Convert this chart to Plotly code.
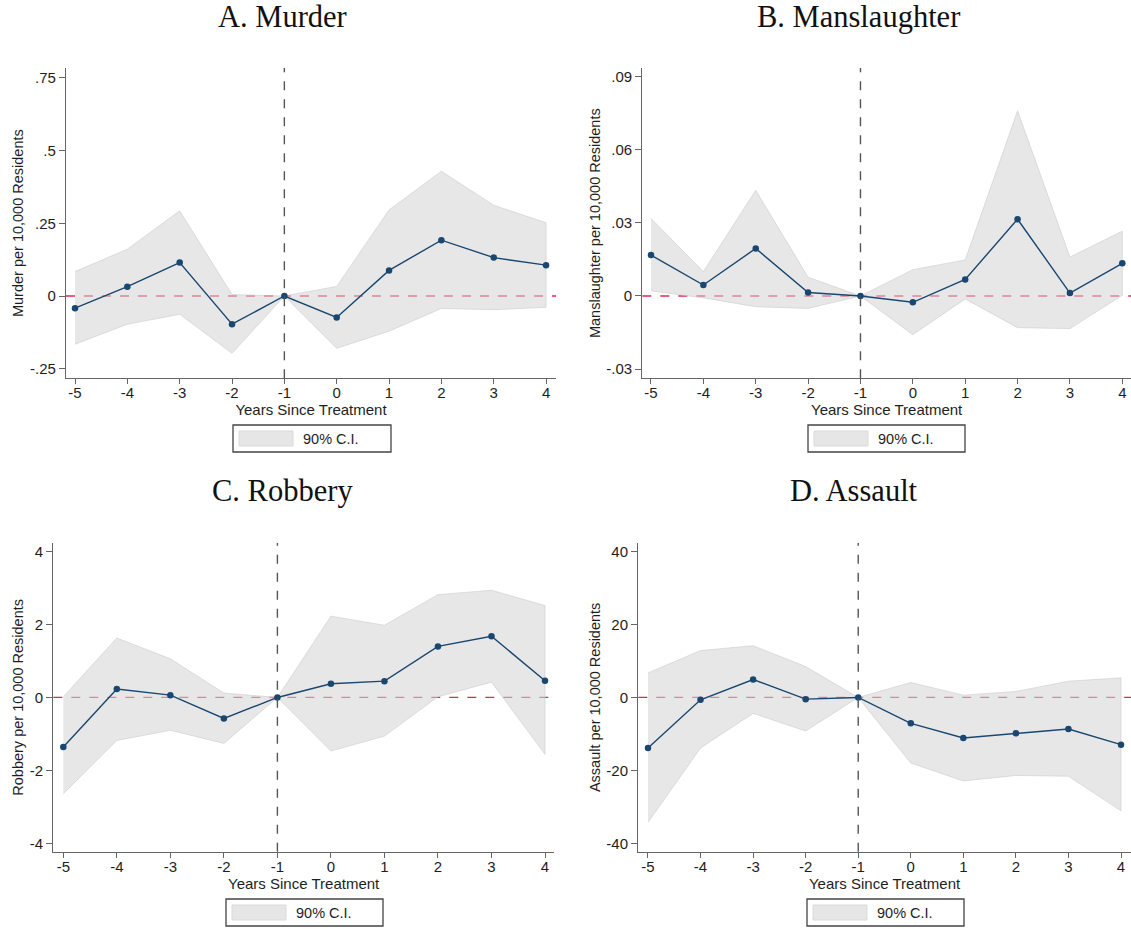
import plotly.graph_objects as go

# ---------------- data ----------------
years = [-5, -4, -3, -2, -1, 0, 1, 2, 3, 4]
x_ticks = [-5, -4, -3, -2, -1, 0, 1, 2, 3, 4]
x_ticktext = ["-5", "-4", "-3", "-2", "-1", "0", "1", "2", "3", "4"]

murder_est = [-0.042, 0.032, 0.115, -0.097, 0.0, -0.074, 0.088, 0.192, 0.132, 0.106]
murder_lo = [-0.166, -0.097, -0.063, -0.197, 0.0, -0.180, -0.121, -0.043, -0.047, -0.039]
murder_hi = [0.084, 0.161, 0.293, 0.005, 0.0, 0.033, 0.296, 0.429, 0.312, 0.252]

mansl_est = [0.0168, 0.0045, 0.0195, 0.0014, 0.0, -0.0026, 0.0068, 0.0315, 0.0012, 0.0134]
mansl_lo = [0.0021, -0.0008, -0.0044, -0.0051, 0.0, -0.0159, -0.0012, -0.0130, -0.0134, 0.0003]
mansl_hi = [0.0318, 0.0100, 0.0434, 0.0077, 0.0, 0.0108, 0.0148, 0.0760, 0.0160, 0.0266]

robbery_est = [-1.36, 0.23, 0.064, -0.575, 0.0, 0.374, 0.447, 1.40, 1.68, 0.456]
robbery_lo = [-2.64, -1.18, -0.90, -1.26, 0.0, -1.47, -1.06, 0.02, 0.42, -1.56]
robbery_hi = [0.02, 1.63, 1.06, 0.12, 0.0, 2.23, 1.98, 2.82, 2.94, 2.52]

assault_est = [-13.85, -0.64, 4.92, -0.46, 0.0, -7.1, -11.1, -9.84, -8.66, -12.94]
assault_lo = [-34.3, -13.85, -4.37, -9.2, 0.0, -18.0, -22.9, -21.4, -21.6, -31.1]
assault_hi = [6.74, 12.85, 14.2, 8.47, 0.0, 4.1, 0.64, 1.64, 4.46, 5.38]

titles = ["A. Murder", "B. Manslaughter", "C. Robbery", "D. Assault"]
y_titles = ["Murder per 10,000 Residents", "Manslaughter per 10,000 Residents",
            "Robbery per 10,000 Residents", "Assault per 10,000 Residents"]
x_title = "Years Since Treatment"
legend_label = "90% C.I."

murder_yticks = [-0.25, 0, 0.25, 0.5, 0.75]
murder_yticktext = ["-.25", "0", ".25", ".5", ".75"]
mansl_yticks = [-0.03, 0, 0.03, 0.06, 0.09]
mansl_yticktext = ["-.03", "0", ".03", ".06", ".09"]
robbery_yticks = [-4, -2, 0, 2, 4]
robbery_yticktext = ["-4", "-2", "0", "2", "4"]
assault_yticks = [-40, -20, 0, 20, 40]
assault_yticktext = ["-40", "-20", "0", "20", "40"]

event_year = -1

# ---------------- layout constants (pixels) ----------------
W, H = 1131, 929
FONT = "Liberation Sans, Arial, sans-serif"
SERIF = "Liberation Serif, Times New Roman, serif"
NAVY = "#1a476f"
BAND = "rgba(212,212,212,0.55)"
BAND_EDGE = "rgba(200,200,200,0.55)"
AXIS_C = "#666666"
TXT = "#1e1e1e"

panels = [
    dict(est=murder_est, lo=murder_lo, hi=murder_hi,
         xpx=(66, 556), ypx=(68, 378.3), xr=(-5.172, 4.19), yr=(-0.283, 0.784),
         yt=murder_yticks, ytt=murder_yticktext, title_xy=(282, 17), leg=(233, 391, 425, 452)),
    dict(est=mansl_est, lo=mansl_lo, hi=mansl_hi,
         xpx=(642.3, 1131), ypx=(68, 378.3), xr=(-5.166, 4.166), yr=(-0.0338, 0.0936),
         yt=mansl_yticks, ytt=mansl_yticktext, title_xy=(858, 17), leg=(808, 965, 425, 452)),
    dict(est=robbery_est, lo=robbery_lo, hi=robbery_hi,
         xpx=(53.3, 554), ypx=(543, 851.7), xr=(-5.187, 4.168), yr=(-4.23, 4.236),
         yt=robbery_yticks, ytt=robbery_yticktext, title_xy=(282, 491), leg=(226, 383, 899, 926)),
    dict(est=assault_est, lo=assault_lo, hi=assault_hi,
         xpx=(638.2, 1131), ypx=(543, 851.7), xr=(-5.186, 4.19), yr=(-42.3, 42.36),
         yt=assault_yticks, ytt=assault_yticktext, title_xy=(854, 491), leg=(807, 964, 899, 926)),
]

fig = go.Figure()
shapes = []
annotations = []
layout = {}

for i, p in enumerate(panels):
    n = "" if i == 0 else str(i + 1)
    xa, ya = "x" + n, "y" + n
    # band
    fig.add_trace(go.Scatter(
        x=years + years[::-1], y=p["hi"] + p["lo"][::-1],
        fill="toself", fillcolor=BAND, mode="lines",
        line=dict(color=BAND_EDGE, width=1),
        xaxis=xa, yaxis=ya, showlegend=False, hoverinfo="skip", name=legend_label))
    # estimates
    fig.add_trace(go.Scatter(
        x=years, y=p["est"], mode="lines+markers",
        line=dict(color=NAVY, width=1.4), marker=dict(color=NAVY, size=6.5),
        xaxis=xa, yaxis=ya, showlegend=False, name="Estimate"))

    layout["xaxis" + n] = dict(
        domain=[p["xpx"][0] / W, p["xpx"][1] / W], range=list(p["xr"]),
        anchor=ya, tickvals=x_ticks, ticktext=x_ticktext,
        showline=True, linecolor=AXIS_C, linewidth=1.3, mirror=False,
        ticks="outside", ticklen=5, tickcolor=AXIS_C, tickwidth=1.3,
        ticklabelstandoff=-4,
        showgrid=False, zeroline=False,
        tickfont=dict(family=FONT, size=15, color=TXT),
        title=dict(text=x_title, font=dict(family=FONT, size=15, color=TXT), standoff=0),
        automargin=False)
    layout["yaxis" + n] = dict(
        domain=[1 - p["ypx"][1] / H, 1 - p["ypx"][0] / H], range=list(p["yr"]),
        anchor=xa, tickvals=p["yt"], ticktext=p["ytt"],
        showline=True, linecolor=AXIS_C, linewidth=1.3,
        ticks="outside", ticklen=6, tickcolor=AXIS_C, tickwidth=1.3,
        showgrid=False, zeroline=False,
        tickfont=dict(family=FONT, size=15, color=TXT),
        title=dict(text=y_titles[i], font=dict(family=FONT, size=14.5, color=TXT), standoff=2),
        automargin=False)

    # zero reference line (below traces)
    shapes.append(dict(type="line", xref=xa + " domain", yref=ya, x0=0, x1=1, y0=0, y1=0,
                       line=dict(color="rgb(228,40,85)", width=1.3, dash="dash"), layer="below"))
    # treatment line
    shapes.append(dict(type="line", xref=xa, yref=ya + " domain", x0=event_year, x1=event_year, y0=0, y1=1,
                       line=dict(color="#555555", width=1.4, dash="dash"), layer="above"))

    # panel title
    annotations.append(dict(text=titles[i], xref="paper", yref="paper",
                            x=p["title_xy"][0] / W, y=1 - p["title_xy"][1] / H,
                            xanchor="center", yanchor="middle", showarrow=False,
                            font=dict(family=SERIF, size=30.5, color="#111111")))
    # legend box
    lx0, lx1, ly0, ly1 = p["leg"]
    shapes.append(dict(type="rect", xref="paper", yref="paper",
                       x0=lx0 / W, x1=lx1 / W, y0=1 - ly1 / H, y1=1 - ly0 / H,
                       line=dict(color="#444444", width=1.3), fillcolor="white"))
    shapes.append(dict(type="rect", xref="paper", yref="paper",
                       x0=(lx0 + 6) / W, x1=(lx0 + 60) / W, y0=1 - (ly1 - 6) / H, y1=1 - (ly0 + 6) / H,
                       line=dict(color="rgb(218,218,218)", width=1), fillcolor="rgb(230,230,230)"))
    annotations.append(dict(text=legend_label, xref="paper", yref="paper",
                            x=(lx0 + 68) / W, y=1 - ((ly0 + ly1) / 2) / H,
                            xanchor="left", yanchor="middle", showarrow=False,
                            font=dict(family=FONT, size=14.5, color=TXT)))

fig.update_layout(
    width=W, height=H, margin=dict(l=0, r=0, t=0, b=0),
    paper_bgcolor="white", plot_bgcolor="white",
    shapes=shapes, annotations=annotations, showlegend=False,
    **layout)

fig.write_html("out.html",
               config={"displayModeBar": False},
               post_script="document.body.style.margin='0px';document.body.style.overflow='hidden';")
